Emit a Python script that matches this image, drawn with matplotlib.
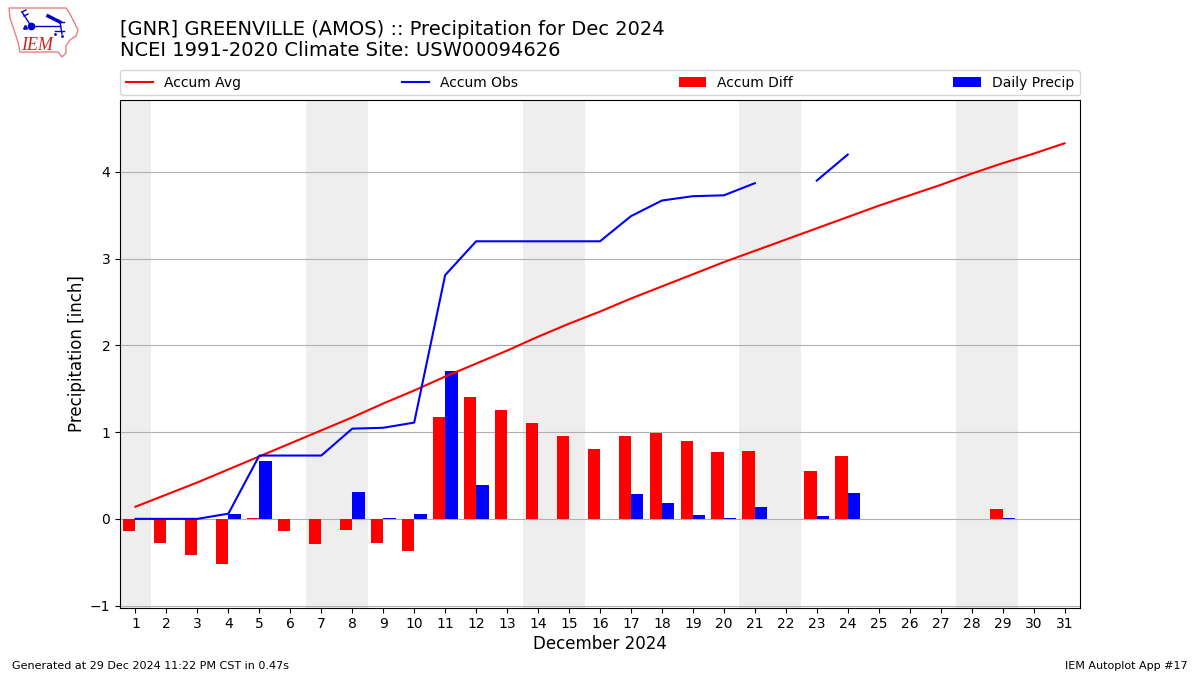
"""
Accumulated precipitation for Greenville (AMOS), December 2024.
"""

import numpy as np
import matplotlib
matplotlib.use('Agg')
import matplotlib.pyplot as plt
from matplotlib.patches import Polygon

nan = np.nan
days = list(range(1, 32))
accum_avg = [0.14, 0.28, 0.42, 0.57, 0.72, 0.87, 1.02, 1.17, 1.33, 1.48, 1.64,
             1.79, 1.94, 2.10, 2.25, 2.39, 2.54, 2.68, 2.82, 2.96, 3.09, 3.22,
             3.35, 3.48, 3.61, 3.73, 3.85, 3.98, 4.10, 4.21, 4.33]
accum_obs = [0.0, 0.0, 0.0, 0.06, 0.73, 0.73, 0.73, 1.04, 1.05, 1.11, 2.81,
             3.20, 3.20, 3.20, 3.20, 3.20, 3.49, 3.67, 3.72, 3.73, 3.87, nan,
             3.90, 4.20, nan, nan, nan, nan, nan, nan, nan]
accum_diff = [-0.14, -0.28, -0.42, -0.52, 0.01, -0.14, -0.29, -0.13, -0.28,
              -0.37, 1.17, 1.40, 1.26, 1.10, 0.95, 0.81, 0.95, 0.99, 0.90,
              0.77, 0.78, 0.0, 0.55, 0.72, 0.0, 0.0, 0.0, 0.0, 0.11, 0.0, 0.0]
daily_precip = [0.0, 0.0, 0.0, 0.06, 0.67, 0.0, 0.0, 0.31, 0.01, 0.06, 1.71,
                0.39, 0.0, 0.0, 0.0, 0.0, 0.29, 0.18, 0.05, 0.01, 0.14, 0.0,
                0.03, 0.30, 0.0, 0.0, 0.0, 0.0, 0.01, 0.0, 0.0]
weekends = [(0.5, 1.5), (6.5, 8.5), (13.5, 15.5), (20.5, 22.5), (27.5, 29.5)]
yticks = [-1, 0, 1, 2, 3, 4]

# logo shapes, in logo pixels
iowa_outline = [(9, 8), (66, 8), (70, 14), (74, 22), (78, 30), (76, 36), (70, 40),
                (66, 46), (66, 53), (62, 57), (58, 52), (20, 52), (18, 42),
                (14, 30), (10, 18)]
logo_lines = [[(22, 12), (31, 26)], [(22, 12), (26, 10)], [(24, 16), (28, 14)],
              [(31, 26), (60, 26)], [(60, 22), (62, 34)], [(55, 31), (64, 31)],
              [(60, 22), (64, 22)]]


def draw_logo(fig):
    ax = fig.add_axes([0, 1 - 60 / 675, 85 / 1200, 60 / 675])
    ax.set_xlim(0, 85)
    ax.set_ylim(60, 0)
    ax.axis('off')
    ax.add_patch(Polygon(iowa_outline, closed=True, fill=False, ec='#e88080', lw=1))
    for line in logo_lines:
        ax.plot(*zip(*line), color='#0000cc', lw=1)
    ax.plot([31], [26], 'o', color='#0000cc', ms=4.5)
    ax.plot([48, 60], [16, 22], color='#0000cc', lw=2.5)
    ax.plot([24, 26, 25], [28, 28, 26], '.', color='#0000cc', ms=2)
    ax.plot([55, 62], [34, 36], '.', color='#0000cc', ms=2)
    ax.text(37.5, 45.5, 'IEM', color='#cc2222', fontsize=13, style='italic',
            family='Liberation Serif', ha='center', va='center')


fig = plt.figure(figsize=(12, 6.75), dpi=100)
ax = fig.add_axes([0.1, 0.1, 0.8, 507.5 / 675])

for start, end in weekends:
    ax.axvspan(start, end, color='#eeeeee', lw=0, zorder=0)

x = np.array(days)
ax.bar(x, accum_diff, width=-0.4, align='edge', color='r', label='Accum Diff', zorder=2)
ax.bar(x, daily_precip, width=0.4, align='edge', color='b', label='Daily Precip', zorder=2)
ax.plot(x, accum_avg, color='r', label='Accum Avg', zorder=3)
ax.plot(x, accum_obs, color='b', label='Accum Obs', zorder=3)

ax.set_xlim(0.5, 31.5)
ax.set_ylim(-1.022, 4.829)
ax.set_xticks(days)
ax.set_yticks(yticks)
ax.tick_params(axis='both', labelsize=10)
ax.yaxis.grid(True, color='#b0b0b0', lw=0.8, zorder=1)
ax.set_axisbelow(True)
ax.set_xlabel('December 2024', fontsize=12, labelpad=3)
ax.set_ylabel('Precipitation [inch]', fontsize=12, labelpad=3)

ax.legend(loc='lower left', bbox_to_anchor=(0, 1.009, 1, 0.05), mode='expand',
          ncol=4, fontsize=10, borderaxespad=0)

fig.text(0.1, 1 - 29.5 / 675, '[GNR] GREENVILLE (AMOS) :: Precipitation for Dec 2024',
         fontsize=14, va='center')
fig.text(0.1, 1 - 50.5 / 675, 'NCEI 1991-2020 Climate Site: USW00094626',
         fontsize=14, va='center')
fig.text(0.01, 1 - 666 / 675, 'Generated at 29 Dec 2024 11:22 PM CST in 0.47s',
         fontsize=8, va='center')
fig.text(0.99, 1 - 666 / 675, 'IEM Autoplot App #17', fontsize=8, ha='right', va='center')

draw_logo(fig)
fig.savefig('out.png', dpi=100)
plt.close(fig)
